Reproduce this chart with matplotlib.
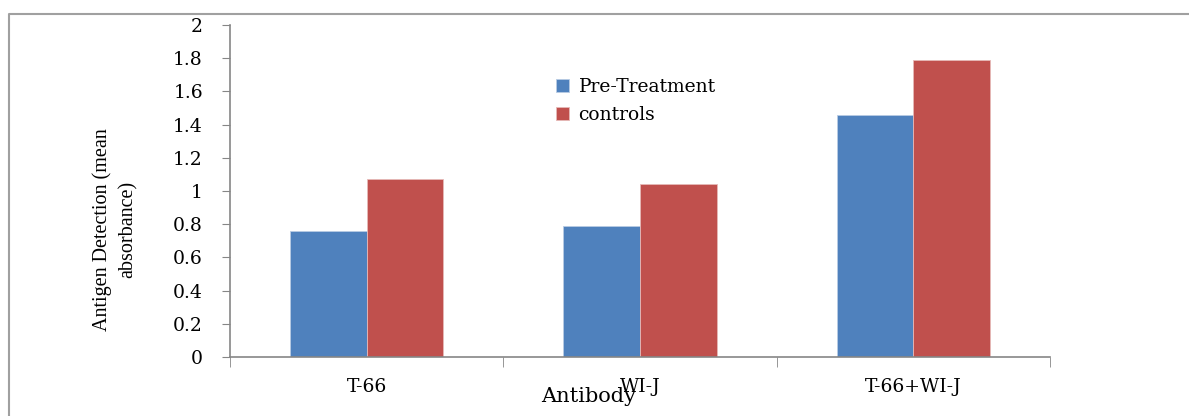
import numpy as np
import matplotlib
matplotlib.use("Agg")
import matplotlib.pyplot as plt
from matplotlib.lines import Line2D

# data
categories = ["T-66", "WI-J", "T-66+WI-J"]
pre_treatment = [0.76, 0.79, 1.46]
controls = [1.075, 1.04, 1.79]
y_ticks = [0, 0.2, 0.4, 0.6, 0.8, 1, 1.2, 1.4, 1.6, 1.8, 2]
y_tick_labels = ["0", "0.2", "0.4", "0.6", "0.8", "1", "1.2", "1.4", "1.6", "1.8", "2"]

blue = "#4f81bd"
red = "#c0504d"
axis_gray = "#868686"
serif_wide = ["DejaVu Serif"]
serif_narrow = ["Liberation Serif", "DejaVu Serif"]

fig = plt.figure(figsize=(11.89, 4.16), dpi=100)
ax = fig.add_axes([230 / 1189, 1 - 357 / 416, 820 / 1189, 332 / 416])

# outer frame (only left and top edges visible in the reference)
top_y = 1 - 14 / 416
left_x = 9 / 1189
fig.lines.append(Line2D([left_x, left_x, 1.0], [0, top_y, top_y], transform=fig.transFigure,
                        color="#a0a0a0", linewidth=1.5))

x = np.arange(len(categories))
w = 0.28
ax.bar(x - w / 2, pre_treatment, w, color=blue, edgecolor="#b8cce4", linewidth=0.6,
       label="Pre-Treatment")
ax.bar(x + w / 2, controls, w, color=red, edgecolor="#e6b9b8", linewidth=0.6,
       label="controls")

ax.set_xlim(-0.5, len(categories) - 0.5)
ax.set_ylim(0, 2)
ax.set_yticks(y_ticks)
ax.set_yticklabels(y_tick_labels, fontfamily=serif_wide, fontsize=13.5)
ax.set_xticks(x)
ax.set_xticklabels(categories, fontfamily=serif_wide, fontsize=13.5)
ax.set_xticks(np.arange(len(categories) + 1) - 0.5, minor=True)
ax.tick_params(axis="x", which="major", length=0, pad=15)
ax.tick_params(axis="x", which="minor", length=7, color=axis_gray, direction="out")
ax.tick_params(axis="y", length=5.5, color=axis_gray, direction="out", pad=14)

for s in ["top", "right"]:
    ax.spines[s].set_visible(False)
for s in ["left", "bottom"]:
    ax.spines[s].set_color(axis_gray)
    ax.spines[s].set_linewidth(1.2)

ax.set_ylabel("Antigen Detection (mean\nabsorbance)", fontfamily=serif_narrow, fontsize=14.5,
              linespacing=1.45)
ax.yaxis.set_label_coords(-0.113, 0.383)
ax.set_xlabel("Antibody", fontfamily=serif_wide, fontsize=15, va="center")
ax.xaxis.set_label_coords(0.437, -0.12)

ax.legend(loc="upper left", bbox_to_anchor=(0.377, 0.89), frameon=False,
          prop={"family": serif_wide, "size": 13.5}, handlelength=0.7, handleheight=0.7,
          handletextpad=0.5, labelspacing=0.5)

fig.savefig("out.png", dpi=100)
